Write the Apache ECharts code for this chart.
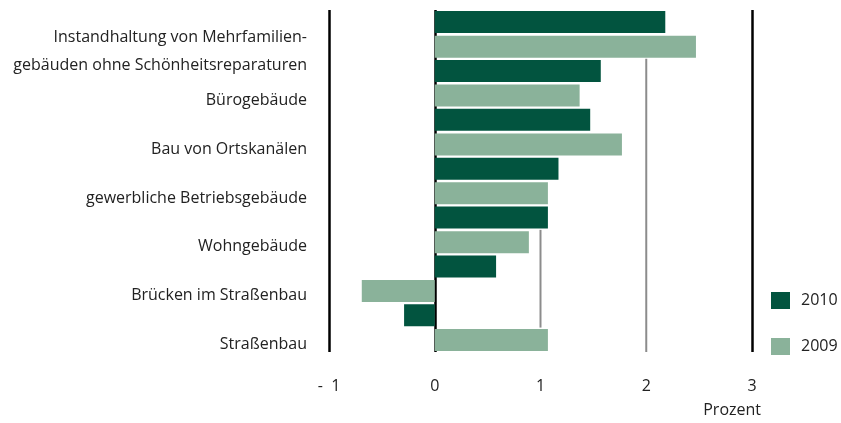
<!DOCTYPE html>
<html>
<head>
<meta charset="utf-8">
<script src="https://cdn.jsdelivr.net/npm/echarts@6/dist/echarts.min.js"></script>
<style>
  html, body { margin: 0; padding: 0; background: #fff; }
  #chart { width: 841px; height: 423px; }
</style>
</head>
<body>
<div id="chart"></div>
<script>
const categories = [
  'Instandhaltung von Mehrfamilien-\ngebäuden ohne Schönheitsreparaturen',
  'Bürogebäude',
  'Bau von Ortskanälen',
  'gewerbliche Betriebsgebäude',
  'Wohngebäude',
  'Brücken im Straßenbau',
  'Straßenbau',
]
const values2010 = [2.18, 1.57, 1.47, 1.17, 1.07, 0.58, -0.29]
const values2009 = [2.47, 1.37, 1.77, 1.07, 0.89, -0.69, 1.07]
const xTicks = [-1, 0, 1, 2, 3]

// the grey partial reference lines: x value, from / to in category units
const refX = [2, 1]
const refFrom = [0.5, 4]
const refTo = [6.5, 6]

const font = '"Open Sans", "DejaVu Sans", sans-serif'
const dark = '#02543f'
const light = '#8ab29a'

const chart = echarts.init(document.getElementById('chart'))

// y position for a fractional category index
const catY = (api, v) => {
  const base = Math.floor(v)
  const band = api.size([0, 1])[1]
  return api.coord([0, base])[1] + (v - base) * band
}

const options = {
  animation: false,
  textStyle: { fontFamily: font },
  title: {
    text: 'Prozent',
    right: 80,
    top: 402,
    padding: 0,
    textStyle: { fontFamily: font, fontSize: 16, fontWeight: 'normal', color: '#222' },
  },
  legend: {
    orient: 'vertical',
    left: 771,
    top: 292,
    padding: 0,
    itemWidth: 19,
    itemHeight: 17,
    itemGap: 29,
    icon: 'rect',
    data: ['2010', '2009'],
    textStyle: { fontFamily: font, fontSize: 16, color: '#222', padding: [0, 0, 0, 6] },
  },
  grid: {
    left: 329,
    right: 89,
    top: 10,
    bottom: 71,
    containLabel: false,
    outerBoundsMode: 'none',
  },
  xAxis: {
    type: 'value',
    min: xTicks[0],
    max: xTicks[xTicks.length - 1],
    interval: 1,
    axisLine: { show: false },
    axisTick: { show: false },
    axisLabel: {
      margin: 26,
      fontFamily: font,
      fontSize: 16,
      color: '#222',
      formatter: (v) => (v < 0 ? `-  ${Math.abs(v)}` : `${v}`),
    },
    splitLine: {
      show: true,
      showMinLine: true,
      showMaxLine: true,
      lineStyle: {
        color: xTicks.map((t) => (t === -1 || t === 0 || t === 3 ? '#000' : 'rgba(0,0,0,0)')),
        width: 2.5,
      },
    },
  },
  yAxis: {
    type: 'category',
    inverse: true,
    data: categories,
    axisLine: { show: false },
    axisTick: { show: false },
    axisLabel: {
      interval: 0,
      hideOverlap: false,
      margin: 22,
      fontFamily: font,
      fontSize: 16,
      lineHeight: 28,
      color: '#222',
      // labels sit next to the lower bar of each pair
      formatter: (v) => `{s| }\n${v}`,
      rich: {
        s: { lineHeight: 34, fontSize: 16 },
      },
    },
  },
  series: [
    {
      name: '2010',
      type: 'bar',
      data: values2010,
      barWidth: 22,
      barGap: '12%',
      itemStyle: { color: dark },
      z: 3,
    },
    {
      name: '2009',
      type: 'bar',
      data: values2009,
      barWidth: 22,
      itemStyle: { color: light },
      z: 3,
    },
    {
      name: 'ref',
      type: 'custom',
      silent: true,
      z: 1,
      data: refX.map((x, i) => [x, refFrom[i], refTo[i]]),
      renderItem: (params, api) => {
        const x = api.coord([api.value(0), 0])[0]
        return {
          type: 'line',
          shape: { x1: x, y1: catY(api, api.value(1)), x2: x, y2: catY(api, api.value(2)) },
          style: { stroke: '#8c8c8c', lineWidth: 2 },
        }
      },
    },
  ],
}

chart.setOption(options)
</script>
</body>
</html>
